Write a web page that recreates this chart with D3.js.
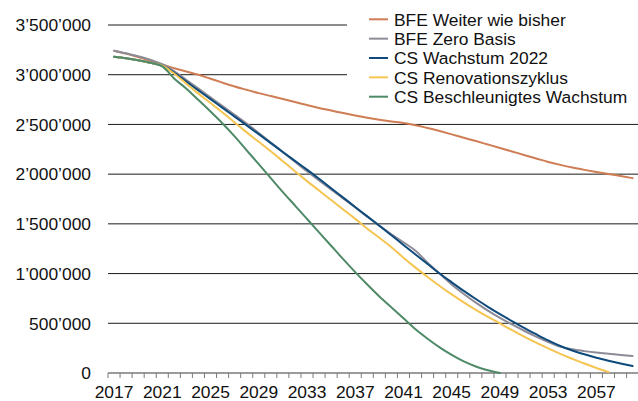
<!DOCTYPE html>
<html>
<head>
<meta charset="utf-8">
<script src="https://cdn.jsdelivr.net/npm/d3@7"></script>
<style>
  html, body { margin: 0; padding: 0; background: #fff; }
  svg { display: block; font-family: "Liberation Sans", Arial, Helvetica, sans-serif; }
</style>
</head>
<body>
<svg id="chart" width="638" height="401"></svg>
<script>
// ---- DATA ----
const years = [2017,2018,2019,2020,2021,2022,2023,2024,2025,2026,2027,2028,2029,2030,2031,2032,2033,2034,2035,2036,2037,2038,2039,2040,2041,2042,2043,2044,2045,2046,2047,2048,2049,2050,2051,2052,2053,2054,2055,2056,2057,2058,2059,2060];
const xTickLabels = [2017,2021,2025,2029,2033,2037,2041,2045,2049,2053,2057];
const yTicks = [0,500000,1000000,1500000,2000000,2500000,3000000,3500000];

const seriesNames = ["BFE Weiter wie bisher","BFE Zero Basis","CS Wachstum 2022","CS Renovationszyklus","CS Beschleunigtes Wachstum"];
const seriesColors = ["#CF7D55","#8C8B97","#0E4A7C","#F5C451","#4F8A68"];

const bfeWeiter = [3242000,3212000,3178000,3140000,3100000,3065000,3032000,3000000,2960000,2920000,2882000,2848000,2815000,2785000,2755000,2725000,2695000,2665000,2640000,2614000,2590000,2568000,2548000,2530000,2514000,2492000,2464000,2433000,2400000,2366000,2333000,2298000,2263000,2228000,2193000,2158000,2123000,2093000,2066000,2043000,2022000,2002000,1981000,1960000];
const bfeZero = [3242000,3215000,3185000,3150000,3105000,3035000,2947000,2860000,2772000,2684000,2596000,2509000,2414000,2318000,2221000,2125000,2029000,1936000,1845000,1755000,1664000,1573000,1482000,1395000,1315000,1230000,1110000,1000000,890000,795000,708000,628000,555000,488000,425000,366000,312000,265000,238000,220000,205000,193000,182000,171000];
const csWachstum = [3180000,3165000,3145000,3120000,3090000,3020000,2930000,2842000,2754000,2667000,2579000,2491000,2402000,2312000,2223000,2134000,2045000,1953000,1858000,1764000,1670000,1575000,1481000,1385000,1288000,1192000,1096000,1000000,912000,826000,744000,666000,592000,522000,454000,390000,328000,272000,226000,188000,154000,124000,96000,70000];
const csRenovation = [3180000,3165000,3145000,3120000,3090000,3010000,2910000,2810000,2715000,2620000,2520000,2420000,2325000,2230000,2130000,2030000,1930000,1835000,1740000,1645000,1550000,1450000,1360000,1265000,1160000,1060000,965000,875000,790000,710000,635000,565000,500000,430000,365000,305000,248000,192000,143000,95000,50000,10000];
const csBeschleunigt = [3180000,3165000,3145000,3120000,3085000,2960000,2860000,2745000,2630000,2510000,2380000,2240000,2100000,1960000,1820000,1685000,1550000,1415000,1280000,1145000,1015000,890000,770000,660000,550000,440000,345000,258000,182000,117000,66000,28000,0];

const seriesValues = [bfeWeiter, bfeZero, csWachstum, csRenovation, csBeschleunigt];

// ---- LAYOUT ----
const svg = d3.select("#chart");
const plotLeft = 108, plotRight = 108 + 44 * 12.06, plotTop = 25, plotBottom = 373;
const fontSize = 17.4;

const x = d3.scaleBand().domain(years).range([plotLeft, plotRight]).paddingInner(0).paddingOuter(0);
const y = d3.scaleLinear().domain([0, 3500000]).range([plotBottom, plotTop]);

const fmt = d3.formatLocale({decimal: ".", thousands: "\u2019", grouping: [3], currency: ["", ""]}).format(",");

// gridlines
svg.append("g").selectAll("line")
  .data(yTicks.filter(d => d > 0))
  .join("line")
  .attr("x1", plotLeft).attr("x2", plotRight)
  .attr("y1", d => y(d)).attr("y2", d => y(d))
  .attr("stroke", "#1a1a1a").attr("stroke-width", 1);

// y labels
svg.append("g").selectAll("text")
  .data(yTicks)
  .join("text")
  .attr("x", 91).attr("y", d => y(d))
  .attr("dy", "0.36em")
  .attr("text-anchor", "end")
  .attr("font-size", fontSize)
  .attr("fill", "#111")
  .text(d => fmt(d));

// x axis line & ticks
svg.append("line")
  .attr("x1", plotLeft).attr("x2", plotRight)
  .attr("y1", y(0)).attr("y2", y(0))
  .attr("stroke", "#7a7a7a").attr("stroke-width", 1.3);

svg.append("g").selectAll("line")
  .data(years)
  .join("line")
  .attr("x1", d => x(d)).attr("x2", d => x(d))
  .attr("y1", y(0)).attr("y2", y(0) + 5)
  .attr("stroke", "#7a7a7a").attr("stroke-width", 1);

svg.append("g").selectAll("text")
  .data(xTickLabels)
  .join("text")
  .attr("x", d => x(d) + x.bandwidth() / 2)
  .attr("y", 397.5)
  .attr("text-anchor", "middle")
  .attr("font-size", fontSize)
  .attr("fill", "#111")
  .text(d => d);

// legend background
svg.append("rect")
  .attr("x", 347).attr("y", 0).attr("width", 300).attr("height", 108)
  .attr("fill", "#fff");

// lines
const line = d3.line()
  .x((d, i) => x(years[i]) + x.bandwidth() / 2)
  .y(d => y(d))
  .curve(d3.curveMonotoneX);

svg.append("g").selectAll("path")
  .data(seriesValues)
  .join("path")
  .attr("d", d => line(d))
  .attr("fill", "none")
  .attr("stroke", (d, i) => seriesColors[i])
  .attr("stroke-width", 2)
  .attr("stroke-linejoin", "round")
  .attr("stroke-linecap", "round");

// legend
const lg = svg.append("g").selectAll("g")
  .data(seriesNames)
  .join("g")
  .attr("transform", (d, i) => `translate(0, ${19.3 + i * 19.35})`);
lg.append("line")
  .attr("x1", 369).attr("x2", 388)
  .attr("y1", 0).attr("y2", 0)
  .attr("stroke", (d, i) => seriesColors[i])
  .attr("stroke-width", 2);
lg.append("text")
  .attr("x", 394).attr("y", 0).attr("dy", "0.36em")
  .attr("font-size", fontSize)
  .attr("fill", "#111")
  .text(d => d);
</script>
</body>
</html>
